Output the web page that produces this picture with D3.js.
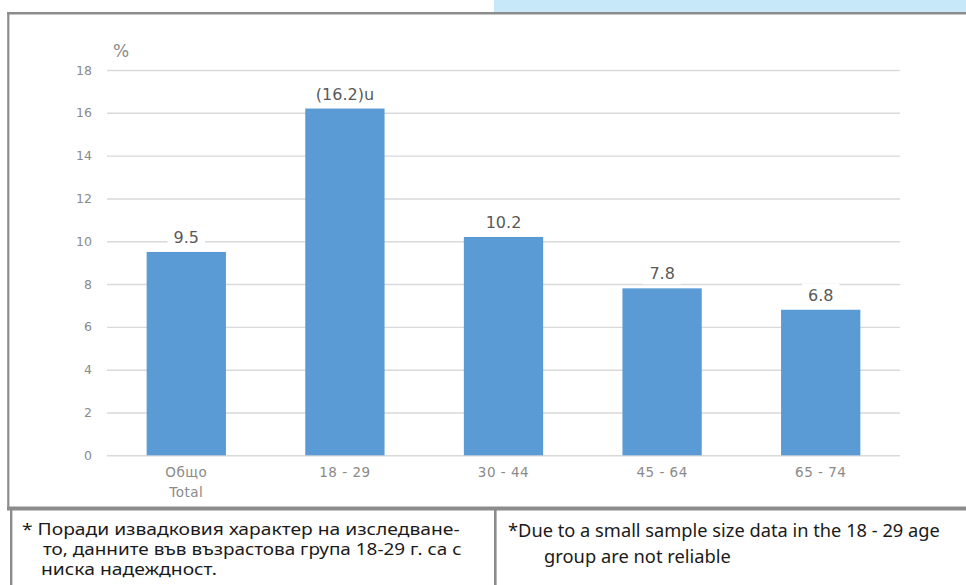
<!DOCTYPE html>
<html>
<head>
<meta charset="utf-8">
<script src="https://cdn.jsdelivr.net/npm/d3@7"></script>
<style>
  html, body { margin: 0; padding: 0; background: #ffffff; }
  svg { display: block; }
</style>
</head>
<body>
<svg id="chart" width="966" height="585"></svg>
<script>
// ---- data ----
const categories = ["Общо\nTotal", "18 - 29", "30 - 44", "45 - 64", "65 - 74"];
const values = [9.5, 16.2, 10.2, 7.8, 6.8];
const valueLabels = ["9.5", "(16.2)u", "10.2", "7.8", "6.8"];
const yTicks = [0, 2, 4, 6, 8, 10, 12, 14, 16, 18];
const yUnit = "%";
const noteBg = ["* Поради извадковия характер на изследване-",
                "то, данните във възрастова група 18-29 г. са с",
                "ниска надеждност."];
const noteEn = ["*Due to a small sample size data in the 18 - 29 age",
                "group are not reliable"];

// ---- layout ----
const W = 966, H = 585;
const svg = d3.select("#chart");
const plot = { left: 107, right: 900, top: 70, bottom: 455.3 };

const x = d3.scaleBand().domain(categories)
  .range([plot.left, plot.right]).paddingInner(0.5).paddingOuter(0.25);
const y = d3.scaleLinear().domain([0, 18]).range([plot.bottom, plot.top]);

// decorative top strip
svg.append("rect").attr("x", 494).attr("y", 0).attr("width", W - 494).attr("height", 12)
  .attr("fill", "#c6e8f8");

// gridlines via axis
const yAxis = d3.axisLeft(y).tickValues(yTicks).tickSize(-(plot.right - plot.left)).tickPadding(15);
const gy = svg.append("g").attr("transform", `translate(${plot.left},0)`).call(yAxis);
gy.select(".domain").remove();
gy.selectAll(".tick line").attr("stroke", "#d9d9d9").attr("stroke-width", 1.4);
gy.selectAll(".tick text")
  .attr("font-family", "DejaVu Sans").attr("font-size", 12.5).attr("fill", "#8a8a8a");

// bars
svg.append("g").selectAll("rect").data(values).join("rect")
  .attr("x", (d, i) => x(categories[i]))
  .attr("width", x.bandwidth())
  .attr("y", d => y(d))
  .attr("height", d => y(0) - y(d))
  .attr("fill", "#5b9bd5");

// value labels with white background
const lg = svg.append("g").selectAll("g").data(values).join("g")
  .attr("transform", (d, i) => `translate(${x(categories[i]) + x.bandwidth() / 2},${y(d) - 9})`);
lg.append("text")
  .attr("text-anchor", "middle")
  .attr("font-family", "DejaVu Sans").attr("font-size", 16).attr("fill", "#595959")
  .text((d, i) => valueLabels[i]);
lg.each(function () {
  const g = d3.select(this);
  const bb = g.select("text").node().getBBox();
  g.insert("rect", "text").attr("x", bb.x - 6).attr("y", bb.y - 2)
    .attr("width", bb.width + 12).attr("height", bb.height + 3).attr("fill", "#ffffff");
});

// x axis labels
const xAxis = d3.axisBottom(x).tickSize(0).tickPadding(0).tickFormat("");
const gx = svg.append("g").attr("transform", `translate(0,${plot.bottom})`).call(xAxis);
gx.select(".domain").remove();
gx.selectAll(".tick").each(function (d) {
  const t = d3.select(this).append("text")
    .attr("text-anchor", "middle")
    .attr("font-family", "DejaVu Sans").attr("font-size", 13.5).attr("fill", "#8a8a8a")
    .attr("letter-spacing", 0.5);
  d.split("\n").forEach((line, k) => {
    t.append("tspan").attr("x", 0).attr("y", 22 + k * 19.5).text(line);
  });
});

// unit label
svg.append("text").attr("x", 113).attr("y", 57)
  .attr("font-family", "DejaVu Sans").attr("font-size", 17).attr("fill", "#8a8a8a")
  .text(yUnit);

// frame lines
const frame = svg.append("g").attr("stroke", "#8c8c8c").attr("fill", "none");
frame.append("line").attr("x1", 7).attr("x2", W).attr("y1", 13.2).attr("y2", 13.2).attr("stroke-width", 2.6);
frame.append("line").attr("x1", 8.3).attr("x2", 8.3).attr("y1", 12).attr("y2", 509).attr("stroke-width", 2.2);
frame.append("line").attr("x1", 7).attr("x2", W).attr("y1", 508.5).attr("y2", 508.5).attr("stroke-width", 4);
frame.append("line").attr("x1", 11.2).attr("x2", 11.2).attr("y1", 508).attr("y2", H).attr("stroke-width", 2.4);
frame.append("line").attr("x1", 495.3).attr("x2", 495.3).attr("y1", 508).attr("y2", H).attr("stroke-width", 2.6);

// footnotes, each line fitted horizontally to the reference extent
function fitLine(xPos, yPos, width, size, str) {
  const t = svg.append("text")
    .attr("font-family", "Noto Sans").attr("font-size", size).attr("fill", "#1a1a1a")
    .text(str);
  const w = t.node().getComputedTextLength();
  const s = width / w;
  t.attr("transform", `translate(${xPos},${yPos}) scale(${s},1)`);
}
const bgPos = [[22, 535, 438], [43, 555, 419], [41, 575, 176]];
noteBg.forEach((s, i) => fitLine(bgPos[i][0], bgPos[i][1], bgPos[i][2], 16, s));
const enPos = [[508, 537, 432], [544, 563, 187]];
noteEn.forEach((s, i) => fitLine(enPos[i][0], enPos[i][1], enPos[i][2], 18.5, s));
</script>
</body>
</html>
